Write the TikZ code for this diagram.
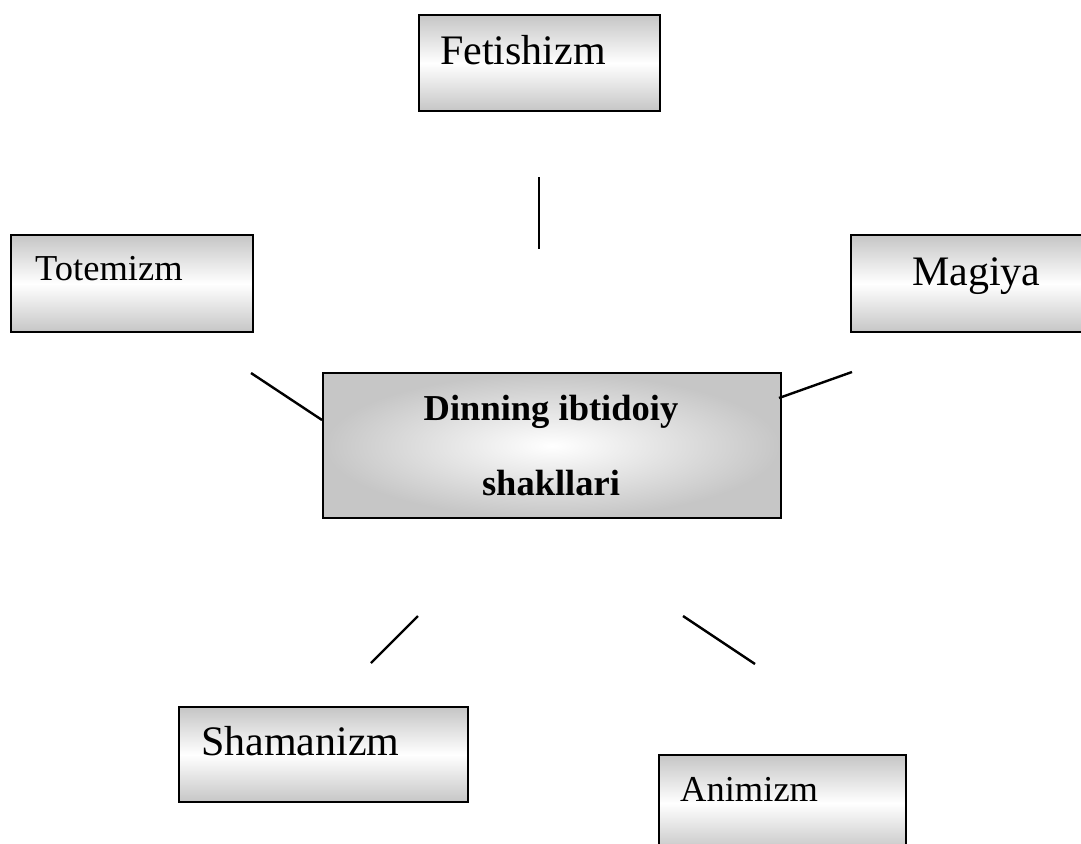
\documentclass[tikz,border=0pt]{standalone}
\usepackage{fontspec}
\setmainfont{Liberation Serif}
\usetikzlibrary{positioning}
\tikzset{
  formbox/.style={draw=black, line width=2.4pt, shading=axis, top color=gray!45,
    bottom color=gray!45, middle color=white, anchor=north west, inner sep=0pt},
  mainbox/.style={draw=black, line width=2.4pt, shading=radial, inner color=white,
    outer color=gray!45, anchor=north west, inner sep=0pt},
  formtxt/.style={anchor=base west, inner sep=0pt},
  linkln/.style={line width=2.4pt, line cap=butt},
}
\newcommand{\bigsz}{\fontsize{42}{50}\selectfont}
\newcommand{\smallsz}{\fontsize{36.5}{44}\selectfont}

\begin{document}
\begin{tikzpicture}[x=1pt, y=-1pt]
  \useasboundingbox (0,0) rectangle (1081,843);
  % boxes with the vertical grey-white-grey shading
  \node[formbox, minimum width=241, minimum height=96] (fetbox) at (418,14) {};
  \node[formbox, minimum width=242, minimum height=97] (totbox) at (10,234) {};
  \node[formbox, minimum width=240, minimum height=97] (magbox) at (850,234) {};
  \node[formbox, minimum width=289, minimum height=95] (shabox) at (178,706) {};
  \node[formbox, minimum width=247, minimum height=96] (anibox) at (658,754) {};
  % centre box, lighter in the middle
  \node[mainbox, minimum width=458, minimum height=145] (dinbox) at (322,372) {};
  % labels
  \node[formtxt, font=\bigsz] (fet) at (440,65) {Fetishizm};
  \node[formtxt, font=\smallsz] (tot) at (35,280) {Totemizm};
  \node[formtxt, font=\bigsz] (mag) at (912,285) {Magiya};
  \node[formtxt, font=\bigsz] (sha) at (201,755) {Shamanizm};
  \node[formtxt, font=\smallsz] (ani) at (680,801) {Animizm};
  \node[anchor=base, inner sep=0pt, font=\smallsz\bfseries] (din1) at (551,420) {Dinning ibtidoiy};
  \node[anchor=base, inner sep=0pt, font=\smallsz\bfseries] (din2) at (551,495) {shakllari};
  % loose connector ends
  \coordinate (fetA) at (539,177);
  \coordinate (fetB) at (539,249);
  \coordinate (totA) at (251,373);
  \coordinate (totB) at (322,420);
  \coordinate (magA) at (779,398);
  \coordinate (magB) at (852,372);
  \coordinate (shaA) at (418,616);
  \coordinate (shaB) at (371,663);
  \coordinate (aniA) at (683,616);
  \coordinate (aniB) at (755,664);
  \draw[linkln] (fetA) -- (fetB);
  \draw[linkln] (totA) -- (totB);
  \draw[linkln] (magA) -- (magB);
  \draw[linkln] (shaA) -- (shaB);
  \draw[linkln] (aniA) -- (aniB);
\end{tikzpicture}
\end{document}
